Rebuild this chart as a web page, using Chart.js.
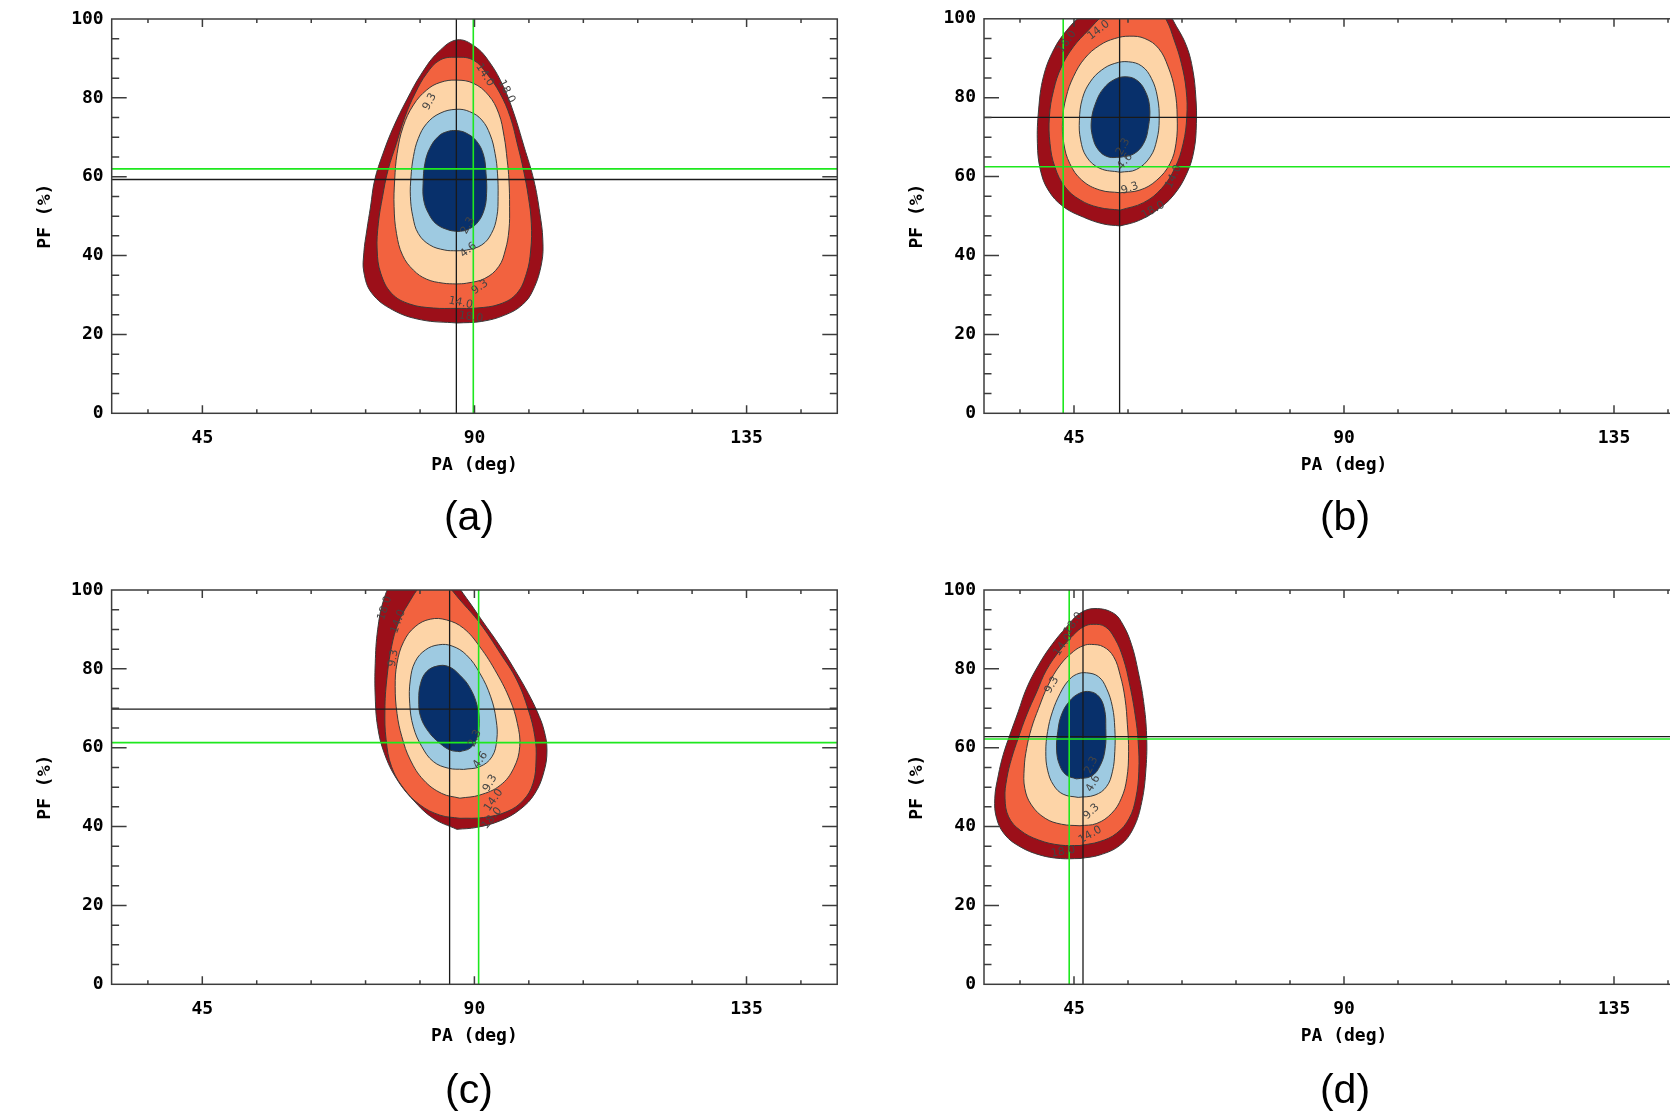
<!DOCTYPE html>
<html>
<head>
<meta charset="utf-8">
<script src="https://cdn.jsdelivr.net/npm/chart.js@4.4.1/dist/chart.umd.min.js"></script>
<style>
html,body{margin:0;padding:0;background:#fff;width:1670px;height:1115px;overflow:hidden;position:relative}
canvas{position:absolute}
.cap{position:absolute;font-family:'Liberation Sans',Arial,sans-serif;font-size:41px;color:#000;transform:translate(-50%,-50%);white-space:nowrap;line-height:1}
</style>
</head>
<body>
<canvas id="ca" width="880" height="500" style="left:0px;top:0px;width:880px;height:500px"></canvas>
<canvas id="cb" width="880" height="500" style="left:872px;top:0px;width:880px;height:500px"></canvas>
<canvas id="cc" width="880" height="500" style="left:0px;top:570px;width:880px;height:500px"></canvas>
<canvas id="cd" width="880" height="500" style="left:872px;top:570px;width:880px;height:500px"></canvas>
<div class="cap" id="capa" style="left:469px;top:516px"></div>
<div class="cap" id="capb" style="left:1345px;top:516px"></div>
<div class="cap" id="capc" style="left:469px;top:1089px"></div>
<div class="cap" id="capd" style="left:1345px;top:1089px"></div>
<script>
// ---------------- data ----------------
const xMin = 30, xMax = 150, yMin = 0, yMax = 100;
const xTickValues = [45, 90, 135];
const yTickValues = [0, 20, 40, 60, 80, 100];
const xTickMarks = [36, 45, 54, 63, 72, 81, 90, 99, 108, 117, 126, 135, 144];
const yTickMarks = [5, 10, 15, 20, 25, 30, 35, 40, 45, 50, 55, 60, 65, 70, 75, 80, 85, 90, 95];
const xTitle = 'PA (deg)';
const yTitle = 'PF (%)';
const panelCaptions = ['(a)', '(b)', '(c)', '(d)'];
const levelNames = ['18.0', '14.0', '9.3', '4.6', '2.3'];

// panel (a) contours [PA, PF]
const a18 = [[87.1,22.9],[81.2,23.7],[76.5,26.2],[73.0,30.5],[71.7,35.8],[71.7,40.7],[72.2,46.5],[72.8,52.3],[73.5,59.2],[74.9,66.0],[76.6,72.6],[78.8,79.5],[81.3,86.3],[84.0,91.6],[87.1,94.7],[90.1,93.0],[92.6,88.8],[94.8,82.8],[96.5,76.1],[98.2,67.6],[99.8,59.2],[100.8,50.8],[101.3,44.0],[101.1,38.1],[99.7,31.3],[97.9,27.5],[95.0,24.9],[91.2,23.3]];
const a14 = [[87.0,26.6],[83.2,26.7],[79.3,27.7],[76.3,30.4],[74.5,35.5],[73.9,41.4],[74.1,48.2],[74.8,55.0],[75.7,61.7],[77.1,68.5],[78.5,75.2],[80.2,81.2],[82.1,86.2],[84.3,89.6],[87.0,90.3],[89.8,89.6],[92.0,86.2],[94.2,81.2],[95.9,75.2],[97.2,67.6],[98.1,61.7],[98.9,55.0],[99.4,48.2],[99.3,41.4],[98.6,35.5],[97.0,30.4],[94.2,27.7],[90.4,26.7]];
const a93 = [[87.0,32.8],[84.8,33.0],[82.1,34.0],[79.9,36.3],[78.1,40.1],[77.1,45.6],[76.7,52.4],[76.8,59.2],[77.2,65.9],[78.2,72.7],[79.9,78.2],[82.1,82.0],[84.3,83.9],[87.0,84.5],[89.8,83.7],[92.3,80.7],[94.0,76.1],[94.9,70.2],[95.4,64.3],[95.7,59.2],[95.8,52.4],[95.7,46.5],[95.1,41.4],[94.0,37.2],[91.7,34.2],[88.7,33.0]];
const a46 = [[87.0,41.2],[85.1,41.4],[82.6,42.7],[80.7,45.6],[79.8,49.9],[79.4,55.0],[79.5,60.0],[79.9,65.1],[80.7,69.7],[82.1,73.5],[84.3,76.1],[87.0,77.1],[89.2,76.5],[91.2,74.4],[92.6,70.6],[93.4,65.9],[93.8,60.9],[93.9,55.0],[93.7,49.9],[92.8,45.6],[91.2,42.7],[88.7,41.4]];
const a23 = [[87.3,46.1],[85.7,46.5],[83.7,48.0],[82.4,50.7],[81.6,54.1],[81.5,58.3],[81.8,63.4],[82.6,67.2],[84.0,70.2],[85.4,71.4],[87.0,71.7],[88.7,71.0],[90.4,68.9],[91.5,65.5],[91.9,60.9],[92.0,55.8],[91.6,51.6],[90.4,48.2],[88.7,46.5]];
const aBest = [87.0, 59.3];
const aTrue = [89.8, 62.0];
const aLabels = [[82.6,79.0,'9.3',-62],[91.7,85.8,'14.0',58],[95.3,81.6,'18.0',62],[88.9,47.6,'2.3',-62],[89.0,41.4,'4.6',-40],[90.9,32.0,'9.3',-35],[87.7,28.0,'14.0',12],[89.4,24.4,'18.0',8]];

// panel (b)
const b18 = [[52.7,47.5],[49.9,48.0],[46.6,49.7],[43.2,52.4],[40.7,56.6],[39.4,61.7],[38.9,68.4],[39.1,76.9],[39.9,85.3],[41.6,92.1],[43.8,97.1],[46.3,100.9],[49.3,103.9],[52.7,105.6],[56.6,105.6],[59.9,103.0],[62.1,98.0],[63.8,92.9],[64.8,87.0],[65.3,80.2],[65.4,73.5],[65.0,66.7],[63.8,60.8],[61.6,55.3],[58.8,51.5],[55.7,48.8]];
const b14 = [[52.7,51.5],[49.1,52.2],[46.0,54.1],[43.5,57.4],[41.8,62.5],[41.0,68.4],[40.9,75.2],[41.6,81.9],[42.9,87.8],[44.9,92.9],[47.4,97.1],[49.9,100.9],[52.7,103.5],[56.0,104.3],[58.8,103.0],[60.4,99.7],[61.7,94.6],[62.9,88.7],[63.7,81.9],[63.8,75.2],[63.2,68.4],[61.8,62.1],[59.6,57.0],[56.6,53.4]];
const b93 = [[52.7,55.9],[49.3,56.6],[46.3,59.1],[44.3,63.3],[43.3,68.4],[43.1,74.3],[43.7,80.2],[44.9,85.3],[46.8,90.0],[49.3,93.3],[51.8,95.0],[54.3,95.6],[56.8,95.0],[59.1,92.5],[60.7,87.8],[61.8,81.9],[62.2,75.2],[62.0,68.4],[61.0,63.3],[58.8,59.1],[56.0,56.6]];
const b46 = [[52.7,61.1],[49.3,62.1],[47.1,65.0],[46.1,69.3],[45.9,74.3],[46.4,79.8],[47.7,84.0],[49.6,87.0],[51.8,88.7],[54.1,89.1],[56.3,88.0],[57.9,84.9],[58.9,80.2],[59.2,74.3],[58.8,69.3],[57.7,65.0],[55.4,61.8]];
const b23 = [[52.7,64.9],[50.7,65.0],[49.1,66.7],[48.1,70.1],[47.9,74.3],[48.7,79.0],[49.9,82.3],[51.6,84.5],[53.5,85.3],[55.4,84.5],[56.8,81.9],[57.6,77.7],[57.4,72.6],[56.6,68.4],[54.9,65.7]];
const bBest = [52.6, 75.0];
const bTrue = [43.2, 62.5];
const bLabels = [[43.8,94.2,'18.0',-55],[49.1,97.1,'14.0',-38],[53.2,67.6,'2.3',-62],[53.5,63.8,'4.6',-50],[54.3,57.0,'9.3',-20],[61.6,60.0,'14.0',-65],[58.2,51.5,'18.0',-30]];

// panel (c)
const c18 = [[87.1,39.3],[83.2,42.1],[79.9,46.7],[77.1,52.2],[75.1,58.6],[74.0,65.3],[73.6,72.9],[73.6,81.4],[74.0,89.9],[75.0,97.5],[76.6,102.5],[79.4,105.5],[83.2,105.1],[86.5,102.1],[88.7,97.9],[91.2,92.4],[94.3,85.6],[97.0,78.9],[98.9,73.8],[100.4,69.1],[101.5,64.5],[102.0,59.4],[101.5,53.9],[100.0,48.4],[97.6,44.4],[94.3,41.5],[90.4,39.8]];
const c14 = [[87.6,42.1],[84.3,42.9],[81.0,45.5],[78.3,49.7],[76.3,55.2],[75.4,62.0],[75.2,69.6],[75.5,77.2],[76.3,85.6],[77.4,91.6],[79.1,96.6],[81.3,101.3],[83.5,103.0],[85.4,101.3],[87.6,97.5],[90.9,91.6],[94.3,83.9],[97.0,77.2],[98.9,69.7],[100.0,62.8],[100.2,56.9],[99.7,51.0],[98.1,46.7],[95.4,43.8],[91.5,42.3]];
const c93 = [[87.6,47.2],[84.6,48.4],[81.6,51.8],[79.4,56.9],[78.0,62.8],[77.2,68.7],[76.9,75.5],[77.2,81.4],[78.3,86.9],[80.2,90.7],[82.7,92.6],[85.4,92.4],[88.2,90.3],[90.9,85.6],[93.7,78.9],[95.9,72.1],[97.1,66.2],[97.5,60.3],[96.5,54.8],[94.3,50.5],[90.9,48.0]];
const c46 = [[88.2,54.5],[85.7,54.8],[83.2,56.5],[81.3,60.3],[79.9,65.3],[79.3,71.3],[79.4,77.2],[80.2,81.8],[81.9,84.8],[84.1,86.1],[86.3,85.8],[88.7,83.5],[90.9,78.9],[92.7,72.9],[93.6,67.0],[93.7,62.0],[92.9,57.7],[90.9,55.2]];
const c23 = [[87.6,59.0],[86.0,59.4],[84.3,61.1],[82.4,64.1],[81.1,67.9],[80.8,72.1],[81.1,76.3],[82.1,79.3],[83.8,80.7],[85.7,80.6],[87.6,78.4],[89.3,75.1],[90.5,70.4],[90.8,66.2],[90.4,62.4],[89.3,59.9]];
const cBest = [85.9, 69.8];
const cTrue = [90.7, 61.3];
const cLabels = [[75.2,95.4,'18.0',-72],[77.4,92.0,'14.0',-70],[76.6,82.7,'9.3',-80],[90.1,62.4,'2.3',-65],[91.0,56.9,'4.6',-55],[92.6,51.0,'9.3',-60],[93.2,46.7,'14.0',-55],[92.9,42.1,'18.0',-50]];

// panel (d)
const d18 = [[46.0,31.9],[42.7,31.9],[39.3,32.8],[36.0,34.9],[33.5,37.9],[32.1,42.1],[31.8,47.2],[32.4,53.1],[33.2,58.2],[34.3,63.2],[35.7,69.1],[37.1,75.1],[39.1,81.0],[41.3,86.1],[43.8,90.7],[46.0,94.1],[48.5,95.3],[51.6,94.1],[53.2,91.1],[54.6,86.1],[55.7,79.3],[56.6,71.7],[57.1,63.2],[57.0,54.8],[56.3,46.3],[54.9,39.6],[52.7,35.3],[49.3,32.8]];
const d14 = [[46.0,35.2],[42.7,35.3],[39.1,36.6],[36.0,39.1],[34.1,42.5],[33.5,47.2],[33.8,52.2],[34.6,57.3],[35.7,62.4],[37.1,68.3],[38.8,74.2],[40.4,79.7],[42.7,84.8],[44.9,88.6],[46.6,90.7],[48.2,91.3],[50.2,90.7],[51.8,87.7],[53.2,82.7],[54.3,75.9],[55.2,68.3],[55.7,61.5],[55.8,53.9],[55.3,47.2],[54.2,42.1],[52.1,38.3],[49.3,36.2]];
const d93 = [[46.0,40.2],[42.9,40.6],[40.2,42.1],[37.9,45.5],[36.8,49.7],[36.7,54.8],[37.1,59.8],[37.9,64.9],[39.1,70.0],[40.7,75.9],[42.7,81.0],[44.9,84.4],[46.6,85.9],[47.9,86.2],[49.9,85.6],[51.6,83.1],[52.7,78.4],[53.5,72.5],[53.9,65.8],[54.1,59.0],[53.8,52.2],[52.9,47.2],[51.3,43.4],[48.8,40.8]];
const d46 = [[45.7,47.4],[43.2,48.2],[41.6,50.5],[40.6,54.3],[40.3,59.0],[40.6,64.1],[41.4,69.1],[42.7,73.8],[44.0,76.9],[45.4,78.6],[47.1,79.0],[49.1,78.0],[50.4,75.1],[51.4,70.4],[51.8,64.9],[51.8,59.0],[51.4,53.9],[50.4,50.1],[48.5,48.0]];
const d23 = [[45.4,52.1],[43.7,53.1],[42.6,55.6],[42.1,59.4],[42.3,64.1],[42.9,68.3],[44.2,71.7],[45.9,73.8],[47.7,74.2],[49.2,72.9],[50.1,69.6],[50.3,64.9],[50.2,59.8],[49.4,55.6],[47.9,52.8]];
const dBest = [46.5, 62.8];
const dTrue = [44.2, 62.2];
const dLabels = [[44.9,91.5,'18.0',-55],[43.2,86.1,'14.0',-55],[41.3,75.9,'9.3',-60],[47.9,55.6,'2.3',-65],[48.2,50.9,'4.6',-60],[47.9,43.8,'9.3',-45],[47.7,37.9,'14.0',-30],[43.2,33.6,'18.0',-10]];

// ---------------- styles / layout ----------------
const levelFill = ['#9c0f19', '#f2623f', '#fdd4a7', '#9ecae1', '#08306b'];
const contourLine = '#3a3a3a';
const bestColor = '#1a1a1a';
const trueColor = '#1ee81e';
const frameColor = '#3c3c3c';
const monoFont = "'DejaVu Sans Mono', monospace";
const CW = 880, CH = 500, XAXIS_H = 70;

const panelGeo = [
  {id:'ca', cx:0,   cy:0,   left:111.7, top:19,   right:837.3, bottom:413.3},
  {id:'cb', cx:872, cy:0,   left:984,   top:18.5, right:1704,  bottom:413.3},
  {id:'cc', cx:0,   cy:570, left:111.6, top:590,  right:837.2, bottom:984.3},
  {id:'cd', cx:872, cy:570, left:984,   top:590,  right:1704,  bottom:984.3}
];

function pts(arr) {
  const p = arr.map(([x, y]) => ({x, y}));
  p.push({x: arr[0][0], y: arr[0][1]});
  return p;
}

function idlPlugin(labels) {
  return {
    id: 'idlAxes',
    afterDatasetsDraw(chart) {
      const {ctx, chartArea: ca} = chart;
      const xs = chart.scales.x, ys = chart.scales.y;
      // contour labels
      ctx.save();
      ctx.beginPath();
      ctx.rect(ca.left, ca.top, ca.right - ca.left, ca.bottom - ca.top);
      ctx.clip();
      ctx.font = "11px 'DejaVu Sans', sans-serif";
      ctx.fillStyle = '#444';
      ctx.textAlign = 'center';
      ctx.textBaseline = 'middle';
      for (const [lx, ly, t, r] of labels) {
        ctx.save();
        ctx.translate(xs.getPixelForValue(lx), ys.getPixelForValue(ly));
        ctx.rotate(r * Math.PI / 180);
        ctx.fillText(t, 0, 0);
        ctx.restore();
      }
      ctx.restore();
      // frame and inward ticks on all four sides
      ctx.save();
      ctx.strokeStyle = frameColor;
      ctx.lineWidth = 1.5;
      ctx.strokeRect(ca.left, ca.top, ca.right - ca.left, ca.bottom - ca.top);
      ctx.beginPath();
      for (const v of xTickMarks) {
        const px = xs.getPixelForValue(v);
        const L = xTickValues.includes(v) ? 8 : 4;
        ctx.moveTo(px, ca.bottom); ctx.lineTo(px, ca.bottom - L);
        ctx.moveTo(px, ca.top); ctx.lineTo(px, ca.top + L);
      }
      for (const v of yTickMarks) {
        const py = ys.getPixelForValue(v);
        const L = yTickValues.includes(v) ? 15 : 7.5;
        ctx.moveTo(ca.left, py); ctx.lineTo(ca.left + L, py);
        ctx.moveTo(ca.right, py); ctx.lineTo(ca.right - L, py);
      }
      ctx.stroke();
      ctx.restore();
    }
  };
}

function makePanel(geo, contours, best, truth, labels) {
  const datasets = [];
  const straight = {pointRadius: 0, tension: 0, fill: false};
  datasets.push({data: [{x: truth[0], y: yMin}, {x: truth[0], y: yMax}], borderColor: trueColor, borderWidth: 1.6, ...straight});
  datasets.push({data: [{x: xMin, y: truth[1]}, {x: xMax, y: truth[1]}], borderColor: trueColor, borderWidth: 1.6, ...straight});
  datasets.push({data: [{x: best[0], y: yMin}, {x: best[0], y: yMax}], borderColor: bestColor, borderWidth: 1.3, ...straight});
  datasets.push({data: [{x: xMin, y: best[1]}, {x: xMax, y: best[1]}], borderColor: bestColor, borderWidth: 1.3, ...straight});
  for (let i = contours.length - 1; i >= 0; i--) {
    datasets.push({
      label: levelNames[i],
      data: pts(contours[i]),
      backgroundColor: levelFill[i],
      borderColor: contourLine,
      borderWidth: 1,
      fill: 'shape',
      tension: 0.4,
      pointRadius: 0
    });
  }
  const tickFont = {family: monoFont, size: 18, weight: 'bold'};
  new Chart(document.getElementById(geo.id), {
    type: 'line',
    data: {datasets},
    options: {
      responsive: false,
      animation: false,
      devicePixelRatio: 1,
      events: [],
      layout: {padding: {
        left: 0,
        top: geo.top - geo.cy,
        right: geo.cx + CW - geo.right,
        bottom: geo.cy + CH - geo.bottom - XAXIS_H
      }},
      elements: {line: {capBezierPoints: false}},
      plugins: {legend: {display: false}, tooltip: {enabled: false}},
      scales: {
        x: {
          type: 'linear', min: xMin, max: xMax,
          grid: {display: false, drawTicks: false},
          border: {display: false},
          afterBuildTicks: s => { s.ticks = xTickValues.map(v => ({value: v})); },
          ticks: {font: tickFont, color: '#000', padding: 14, maxRotation: 0, autoSkip: false},
          title: {display: true, text: xTitle, font: tickFont, color: '#000', padding: {top: 0, bottom: 7}},
          afterFit: s => { s.height = XAXIS_H; }
        },
        y: {
          type: 'linear', min: yMin, max: yMax,
          grid: {display: false, drawTicks: false},
          border: {display: false},
          afterBuildTicks: s => { s.ticks = yTickValues.map(v => ({value: v})); },
          ticks: {font: tickFont, color: '#000', padding: 8, autoSkip: false},
          title: {display: true, text: yTitle, font: tickFont, color: '#000', padding: {top: 35, bottom: 0}},
          afterFit: s => { s.width = geo.left - geo.cx; }
        }
      }
    },
    plugins: [idlPlugin(labels)]
  });
}

makePanel(panelGeo[0], [a18, a14, a93, a46, a23], aBest, aTrue, aLabels);
makePanel(panelGeo[1], [b18, b14, b93, b46, b23], bBest, bTrue, bLabels);
makePanel(panelGeo[2], [c18, c14, c93, c46, c23], cBest, cTrue, cLabels);
makePanel(panelGeo[3], [d18, d14, d93, d46, d23], dBest, dTrue, dLabels);

['capa', 'capb', 'capc', 'capd'].forEach((id, i) => { document.getElementById(id).textContent = panelCaptions[i]; });
</script>
</body>
</html>
